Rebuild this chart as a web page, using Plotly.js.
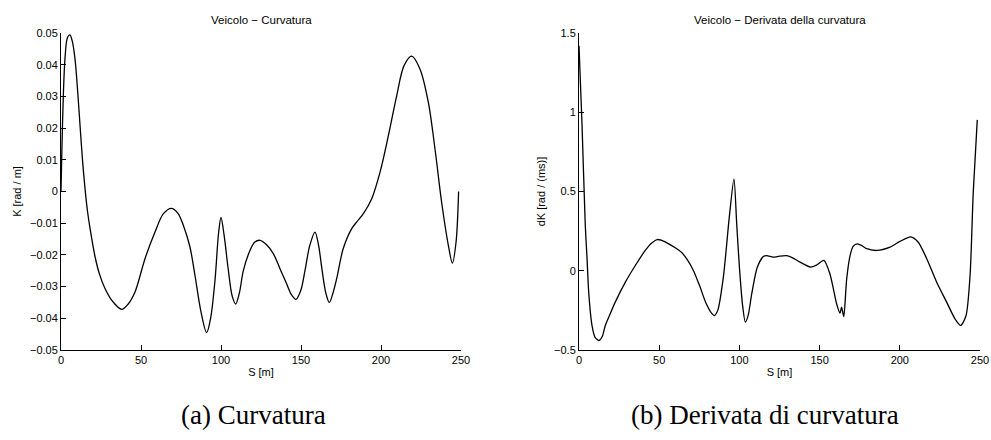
<!DOCTYPE html>
<html>
<head>
<meta charset="utf-8">
<script src="https://cdn.plot.ly/plotly-3.0.1.min.js"></script>
<style>html,body{margin:0;padding:0;background:#fff;}#chart{width:991px;height:440px;}</style>
</head>
<body>
<div id="chart"></div>
<script>
// Left panel: curvature K [rad/m] vs S [m]
const sCurv = [0, 0.5, 1.5, 2.5, 4, 5.6, 7, 8.75, 10.5, 11.9, 13.5, 15, 16.5, 18.1, 21.25, 24, 27.5, 32, 37.9, 42, 46.25, 52.5, 58.75, 64, 69, 73, 76.5, 80.6, 83.75, 87.5, 91, 93.5, 96.25, 98.5, 100, 102, 104.6, 107, 109.2, 111.5, 114, 118.1, 121, 124.4, 128.5, 132.7, 137, 141, 144, 146.9, 150, 152.5, 155.5, 158.75, 161, 162.9, 165.5, 167.7, 170, 172.3, 176.4, 181.7, 185, 189, 194.2, 199.4, 204.6, 209.8, 214.4, 219.2, 224.4, 229.6, 233.75, 237.9, 242.1, 244.6, 246.9, 248.5];
const kCurv = [0, 0.012, 0.031, 0.042, 0.0485, 0.0494, 0.0475, 0.0418, 0.031, 0.0208, 0.0095, 0.001, -0.006, -0.0115, -0.0205, -0.026, -0.0306, -0.0345, -0.0372, -0.0355, -0.0317, -0.0212, -0.0128, -0.0070, -0.0053, -0.0068, -0.0107, -0.0175, -0.0265, -0.038, -0.0445, -0.040, -0.028, -0.013, -0.0082, -0.014, -0.0249, -0.033, -0.0355, -0.032, -0.0249, -0.0186, -0.016, -0.0154, -0.0168, -0.0196, -0.0245, -0.0291, -0.0325, -0.0340, -0.031, -0.0249, -0.017, -0.0128, -0.017, -0.0238, -0.032, -0.0350, -0.032, -0.0275, -0.018, -0.0117, -0.0095, -0.0070, -0.0023, 0.0061, 0.0176, 0.0302, 0.0397, 0.0427, 0.0386, 0.0281, 0.0134, -0.0034, -0.0170, -0.0226, -0.016, 0];

// Right panel: curvature derivative dK vs S [m]
const sDer = [0, 1.9, 3.9, 5.0, 6.05, 8.1, 10, 12.4, 14.5, 16.4, 19.5, 22.6, 28.9, 35.1, 41.3, 45, 48.8, 52, 55.9, 60, 64, 67.5, 71.3, 75.4, 79, 82.9, 84.3, 86.5, 90, 93.7, 96.6, 98.3, 100, 102, 103.7, 105.5, 107.7, 111.2, 114.9, 117, 121.1, 125, 129.5, 133.5, 137.8, 144.4, 148, 152.7, 156.4, 158.5, 160.6, 162.7, 163.7, 164.4, 165.1, 166.9, 169, 171, 173.5, 176.5, 179.4, 185.6, 193.9, 200.1, 206.8, 211.5, 216.8, 223, 229.2, 234.4, 238, 241.3, 243.8, 245.8, 248.3];
const dkDer = [1.42, 0.916, 0.29, 0.08, -0.135, -0.345, -0.42, -0.44, -0.415, -0.345, -0.27, -0.198, -0.072, 0.033, 0.128, 0.172, 0.197, 0.19, 0.17, 0.145, 0.115, 0.07, 0.002, -0.1, -0.2, -0.271, -0.283, -0.25, -0.04, 0.338, 0.58, 0.3, 0.023, -0.22, -0.324, -0.28, -0.145, 0.023, 0.09, 0.095, 0.086, 0.092, 0.095, 0.08, 0.054, 0.023, 0.035, 0.065, -0.019, -0.11, -0.208, -0.267, -0.229, -0.26, -0.29, -0.05, 0.096, 0.155, 0.170, 0.158, 0.139, 0.128, 0.149, 0.185, 0.214, 0.180, 0.076, -0.072, -0.198, -0.303, -0.345, -0.282, -0.03, 0.496, 0.952];

const xTicks = [0, 50, 100, 150, 200, 250];
const titles = ['Veicolo \u2212 Curvatura', 'Veicolo \u2212 Derivata della curvatura'];
const captions = ['(a) Curvatura', '(b) Derivata di curvatura'];
const yTitles = ['K [rad / m]', 'dK [rad / (ms)]'];
const xTitle = 'S [m]';

const W = 991, H = 440;
const sans = 'Liberation Sans, Arial, Helvetica, sans-serif';
const serif = 'Liberation Serif, Times New Roman, serif';
const tickFont = {family: sans, size: 11, color: '#000'};

const traces = [
  {x: sCurv, y: kCurv, type: 'scatter', mode: 'lines', xaxis: 'x', yaxis: 'y',
   line: {color: '#000', width: 1.3, shape: 'spline', smoothing: 0.9}, hoverinfo: 'x+y'},
  {x: sDer, y: dkDer, type: 'scatter', mode: 'lines', xaxis: 'x2', yaxis: 'y2',
   line: {color: '#000', width: 1.3, shape: 'spline', smoothing: 0.7}, hoverinfo: 'x+y'}
];

function xax(domain, anchor) {
  return {domain: domain, anchor: anchor, range: [0, 250], tickvals: xTicks,
    ticks: 'inside', ticklen: 5, tickwidth: 1, tickcolor: '#000',
    showline: true, linecolor: '#000', linewidth: 1, showgrid: false, zeroline: false,
    tickfont: tickFont, fixedrange: true,
    title: {text: xTitle, font: {family: sans, size: 11, color: '#000'}, standoff: 3}};
}
function yax(domain, anchor, range, dtick, t) {
  return {domain: domain, anchor: anchor, range: range, dtick: dtick, tick0: 0,
    ticks: 'inside', ticklen: 5, tickwidth: 1, tickcolor: '#000',
    showline: true, linecolor: '#000', linewidth: 1, showgrid: false, zeroline: false,
    tickfont: tickFont, fixedrange: true,
    title: {text: t, font: {family: sans, size: 11, color: '#000'}, standoff: 6}};
}

const yDom = [1 - 350 / H, 1 - 33 / H];
const layout = {
  width: W, height: H,
  margin: {l: 0, r: 0, t: 0, b: 0},
  paper_bgcolor: '#fff', plot_bgcolor: '#fff',
  showlegend: false,
  xaxis: xax([61 / W, 461 / W], 'y'),
  yaxis: yax(yDom, 'x', [-0.05, 0.05], 0.01, yTitles[0]),
  xaxis2: xax([579 / W, 980 / W], 'y2'),
  yaxis2: yax(yDom, 'x2', [-0.5, 1.5], 0.5, yTitles[1]),
  annotations: [
    {text: titles[0], xref: 'paper', yref: 'paper', x: 261 / W, y: 1 - 20 / H,
     xanchor: 'center', yanchor: 'middle', showarrow: false,
     font: {family: sans, size: 11.5, color: '#000'}},
    {text: titles[1], xref: 'paper', yref: 'paper', x: 780 / W, y: 1 - 20 / H,
     xanchor: 'center', yanchor: 'middle', showarrow: false,
     font: {family: sans, size: 11.5, color: '#000'}},
    {text: captions[0], xref: 'paper', yref: 'paper', x: 253 / W, y: 1 - 415 / H,
     xanchor: 'center', yanchor: 'middle', showarrow: false,
     font: {family: serif, size: 27, color: '#000'}},
    {text: captions[1], xref: 'paper', yref: 'paper', x: 765 / W, y: 1 - 415 / H,
     xanchor: 'center', yanchor: 'middle', showarrow: false,
     font: {family: serif, size: 27, color: '#000'}}
  ]
};

Plotly.newPlot('chart', traces, layout, {displayModeBar: false, staticPlot: true});
</script>
</body>
</html>
